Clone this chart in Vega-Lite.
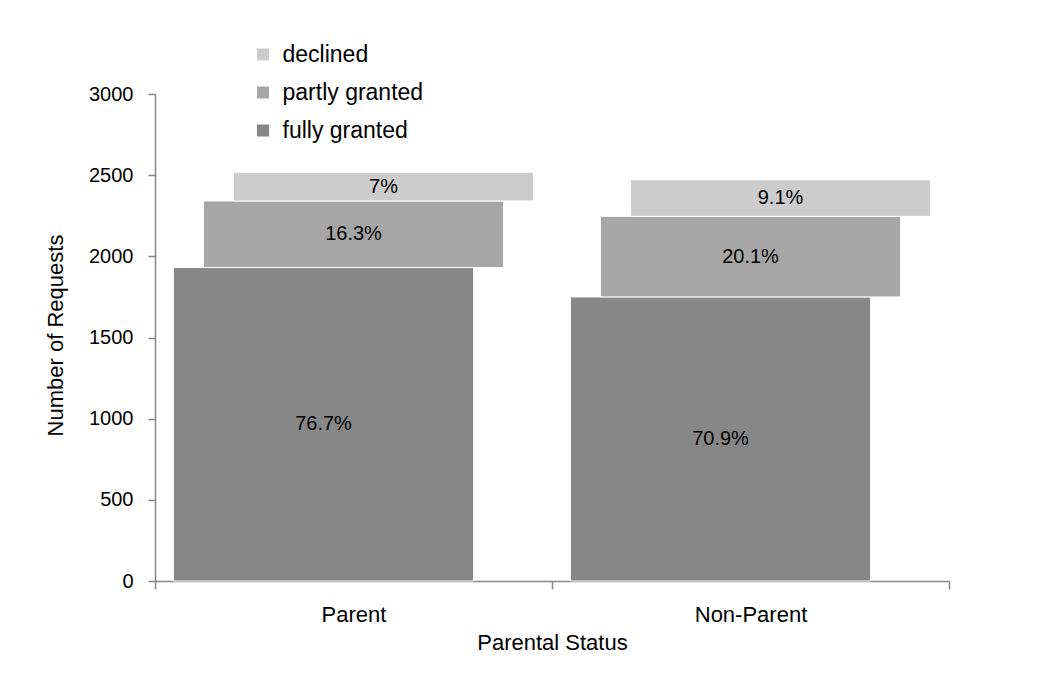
{
  "$schema": "https://vega.github.io/schema/vega-lite/v6.json",
  "width": 794,
  "height": 487,
  "autosize": {"type": "none"},
  "padding": {"left": 155, "top": 94, "right": 95, "bottom": 98},
  "background": "#ffffff",
  "config": {
    "view": {"stroke": null},
    "font": "Liberation Sans",
    "axis": {"grid": false, "domainColor": "#868686", "tickColor": "#868686", "domainWidth": 1.5, "tickWidth": 1.5, "labelColor": "#000000", "titleColor": "#000000", "titleFontWeight": "normal", "labelFont": "Liberation Sans", "titleFont": "Liberation Sans"}
  },
  "data": {
    "values": [
      {"parental": "Parent", "status": "fully granted", "rank": 1, "count": 1931, "pct": "76.7%"},
      {"parental": "Parent", "status": "partly granted", "rank": 2, "count": 410, "pct": "16.3%"},
      {"parental": "Parent", "status": "declined", "rank": 3, "count": 177, "pct": "7%"},
      {"parental": "Non-Parent", "status": "fully granted", "rank": 1, "count": 1750, "pct": "70.9%"},
      {"parental": "Non-Parent", "status": "partly granted", "rank": 2, "count": 496, "pct": "20.1%"},
      {"parental": "Non-Parent", "status": "declined", "rank": 3, "count": 225, "pct": "9.1%"}
    ]
  },
  "transform": [
    {"stack": "count", "groupby": ["parental"], "sort": [{"field": "rank", "order": "ascending"}], "as": ["y0", "y1"]}
  ],
  "encoding": {
    "x": {
      "field": "parental", "type": "nominal", "sort": ["Parent", "Non-Parent"],
      "scale": {"paddingInner": 0, "paddingOuter": 0},
      "title": "Parental Status",
      "axis": {"labelAngle": 0, "tickBand": "extent", "tickSize": 8, "labelPadding": 15, "labelFontSize": 22, "titleFontSize": 22, "titleY": 51, "titleBaseline": "top"}
    },
    "y": {
      "field": "y0", "type": "quantitative",
      "scale": {"domain": [0, 3000]},
      "title": "Number of Requests",
      "axis": {"values": [0, 500, 1000, 1500, 2000, 2500, 3000], "format": "d", "tickSize": 7, "labelPadding": 15, "labelFontSize": 20, "titleFontSize": 22, "titleX": -88, "titleY": 241, "titleAngle": -90, "titleBaseline": "bottom", "titleAlign": "center"}
    }
  },
  "layer": [
    {
      "transform": [{"filter": "datum.status == 'fully granted'"}],
      "mark": {"type": "bar", "xOffset": -30, "width": {"band": 0.756}, "stroke": "#ffffff", "strokeWidth": 1},
      "encoding": {
        "y2": {"field": "y1"},
        "color": {"field": "status", "type": "nominal", "scale": {"domain": ["declined", "partly granted", "fully granted"], "range": ["#cccccc", "#a6a6a6", "#878787"]},
          "legend": {"orient": "none", "legendX": 96.5, "legendY": -51, "title": null, "symbolType": "square", "symbolSize": 144, "symbolStrokeWidth": 0, "labelFontSize": 23, "labelColor": "#000000", "labelOffset": 8, "rowPadding": 14, "padding": 0}}
      }
    },
    {
      "transform": [{"filter": "datum.status == 'partly granted'"}],
      "mark": {"type": "bar", "xOffset": 0, "width": {"band": 0.756}, "stroke": "#ffffff", "strokeWidth": 1},
      "encoding": {
        "y2": {"field": "y1"},
        "color": {"field": "status", "type": "nominal", "scale": {"domain": ["declined", "partly granted", "fully granted"], "range": ["#cccccc", "#a6a6a6", "#878787"]},
          "legend": {"orient": "none", "legendX": 96.5, "legendY": -51, "title": null, "symbolType": "square", "symbolSize": 144, "symbolStrokeWidth": 0, "labelFontSize": 23, "labelColor": "#000000", "labelOffset": 8, "rowPadding": 14, "padding": 0}}
      }
    },
    {
      "transform": [{"filter": "datum.status == 'declined'"}],
      "mark": {"type": "bar", "xOffset": 30, "width": {"band": 0.756}, "stroke": "#ffffff", "strokeWidth": 1},
      "encoding": {
        "y2": {"field": "y1"},
        "color": {"field": "status", "type": "nominal", "scale": {"domain": ["declined", "partly granted", "fully granted"], "range": ["#cccccc", "#a6a6a6", "#878787"]},
          "legend": {"orient": "none", "legendX": 96.5, "legendY": -51, "title": null, "symbolType": "square", "symbolSize": 144, "symbolStrokeWidth": 0, "labelFontSize": 23, "labelColor": "#000000", "labelOffset": 8, "rowPadding": 14, "padding": 0}}
      }
    },
    {
      "transform": [
        {"filter": "datum.status == 'fully granted'"},
        {"fold": ["y0", "y1"], "as": ["edge", "v"]},
        {"aggregate": [{"op": "mean", "field": "v", "as": "y0"}], "groupby": ["parental", "pct"]}
      ],
      "mark": {"type": "text", "xOffset": -30, "fontSize": 20, "color": "#000000", "baseline": "middle"},
      "encoding": {"text": {"field": "pct"}}
    },
    {
      "transform": [
        {"filter": "datum.status == 'partly granted'"},
        {"fold": ["y0", "y1"], "as": ["edge", "v"]},
        {"aggregate": [{"op": "mean", "field": "v", "as": "y0"}], "groupby": ["parental", "pct"]}
      ],
      "mark": {"type": "text", "xOffset": 0, "fontSize": 20, "color": "#000000", "baseline": "middle"},
      "encoding": {"text": {"field": "pct"}}
    },
    {
      "transform": [
        {"filter": "datum.status == 'declined'"},
        {"fold": ["y0", "y1"], "as": ["edge", "v"]},
        {"aggregate": [{"op": "mean", "field": "v", "as": "y0"}], "groupby": ["parental", "pct"]}
      ],
      "mark": {"type": "text", "xOffset": 30, "fontSize": 20, "color": "#000000", "baseline": "middle"},
      "encoding": {"text": {"field": "pct"}}
    }
  ]
}
